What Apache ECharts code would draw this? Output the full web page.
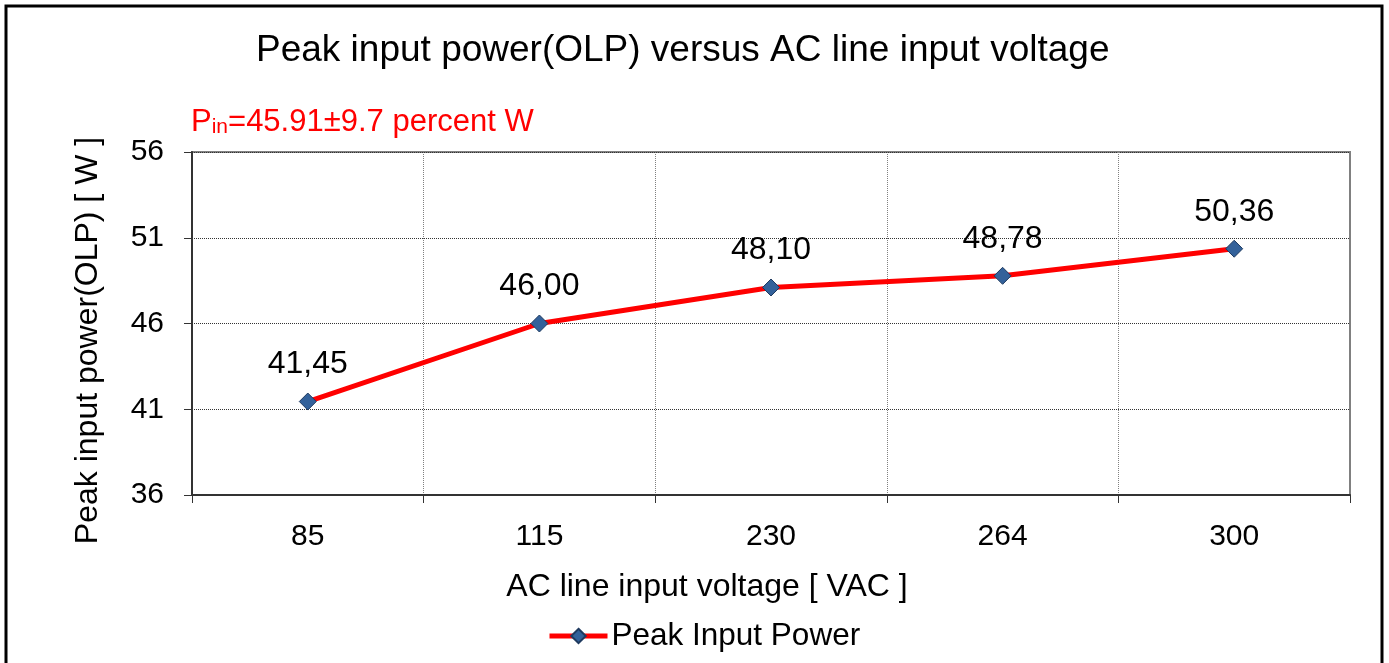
<!DOCTYPE html>
<html>
<head>
<meta charset="utf-8">
<style>
  html, body { margin: 0; padding: 0; background: #fff; }
  #chart { width: 1389px; height: 663px; }
</style>
<script src="https://cdn.jsdelivr.net/npm/echarts@6/dist/echarts.min.js"></script>
</head>
<body>
<div id="chart"></div>
<script>
var voltages = ['85', '115', '230', '264', '300']
var peakPower = [41.45, 46.00, 48.10, 48.78, 50.36]
var yTicks = { min: 36, max: 56, interval: 5 }

var font = 'Liberation Sans, Arial, sans-serif'
var chart = echarts.init(document.getElementById('chart'))

var option = {
  animation: false,
  textStyle: { fontFamily: font },
  graphic: [
    {
      type: 'rect',
      shape: { x: 6, y: 6, width: 1376, height: 670 },
      style: { fill: 'none', stroke: '#000', lineWidth: 3 }
    }
  ],
  title: [
    {
      text: 'Peak input power(OLP) versus AC line input voltage',
      left: 251,
      top: 27,
      textStyle: { fontSize: 37, fontWeight: 'normal', color: '#000', fontFamily: font }
    },
    {
      text: '{p|P}{sub|in}{p|=45.91±9.7 percent W}',
      left: 186,
      top: 97,
      textStyle: {
        fontWeight: 'normal',
        rich: {
          p: { fontSize: 31, fontWeight: 'normal', color: '#ff0000', fontFamily: font, verticalAlign: 'bottom', lineHeight: 36 },
          sub: { fontSize: 21, fontWeight: 'normal', color: '#ff0000', fontFamily: font, verticalAlign: 'bottom', lineHeight: 28 }
        }
      }
    }
  ],
  legend: {
    bottom: 6,
    left: 542,
    itemWidth: 58,
    itemHeight: 18,
    itemGap: 4,
    lineStyle: { width: 5 },
    textStyle: { fontSize: 31.5, color: '#000', fontFamily: font, padding: [0, 0, 0, -1] },
    data: ['Peak Input Power']
  },
  grid: {
    left: 192,
    right: 39,
    top: 152,
    bottom: 168,
    show: true,
    borderColor: '#808080',
    borderWidth: 2
  },
  xAxis: {
    type: 'category',
    data: voltages,
    boundaryGap: true,
    name: 'AC line input voltage [ VAC ]',
    nameLocation: 'middle',
    nameGap: 76,
    nameTextStyle: { fontSize: 32, color: '#000', fontFamily: font, padding: [0, 128, 0, 0] },
    axisLine: { lineStyle: { color: '#333', width: 2 } },
    axisTick: { show: true, length: 8, lineStyle: { color: '#333', width: 1 } },
    axisLabel: { fontSize: 30, color: '#000', margin: 27, fontFamily: font },
    splitLine: { show: true, lineStyle: { color: '#808080', type: 'dotted', width: 1 } }
  },
  yAxis: {
    type: 'value',
    min: yTicks.min,
    max: yTicks.max,
    interval: yTicks.interval,
    name: 'Peak input power(OLP) [ W ]',
    nameLocation: 'middle',
    nameGap: 88,
    nameTextStyle: { fontSize: 32, color: '#000', fontFamily: font, padding: [0, 34, 0, 0] },
    axisLine: { show: true, lineStyle: { color: '#333', width: 2 } },
    axisTick: { show: true, length: 8, lineStyle: { color: '#333', width: 1 } },
    axisLabel: { fontSize: 30, color: '#000', margin: 28, fontFamily: font },
    splitLine: { show: true, lineStyle: { color: '#333', type: 'dotted', width: 1 } }
  },
  series: [
    {
      name: 'Peak Input Power',
      type: 'line',
      data: peakPower,
      symbol: 'diamond',
      symbolSize: 17,
      lineStyle: { color: '#ff0000', width: 5 },
      itemStyle: { color: '#33619a', borderColor: '#1f3a5f', borderWidth: 1 },
      label: {
        show: true,
        position: 'top',
        distance: 12,
        fontSize: 32,
        color: '#000',
        fontFamily: font,
        formatter: function (p) { return p.value.toFixed(2).replace('.', ',') }
      },
      z: 5
    }
  ]
}

chart.setOption(option)
</script>
</body>
</html>
